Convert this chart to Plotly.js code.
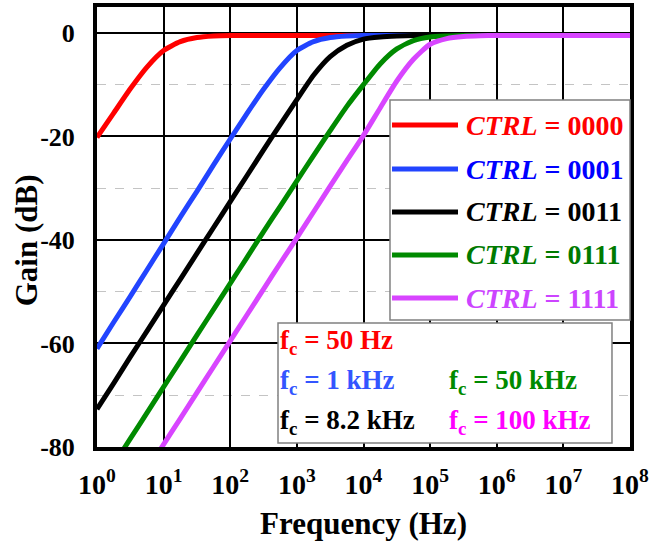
<!DOCTYPE html>
<html>
<head>
<meta charset="utf-8">
<script src="https://cdn.plot.ly/plotly-3.0.1.min.js"></script>
<style>html,body{margin:0;padding:0;background:#fff}#chart{width:662px;height:548px}</style>
</head>
<body>
<div id="chart"></div>
<script>
// Frequencies (Hz), quarter-decade points from 1 Hz to 100 MHz
var freq = [1, 1.778, 3.162, 5.623, 10, 17.78, 31.62, 56.23, 100, 177.8, 316.2, 562.3,
  1e3, 1.778e3, 3.162e3, 5.623e3, 1e4, 1.778e4, 3.162e4, 5.623e4, 1e5, 1.778e5, 3.162e5, 5.623e5,
  1e6, 1.778e6, 3.162e6, 5.623e6, 1e7, 1.778e7, 3.162e7, 5.623e7, 1e8];

var gain0000 = [-20.2, -15.5, -10.8, -6.6, -3.4, -1.7, -0.9, -0.6, -0.5, -0.5, -0.5, -0.5,
  -0.5, -0.5, -0.5, -0.5, -0.5, -0.5, -0.5, -0.5, -0.5, -0.5, -0.5, -0.5,
  -0.5, -0.5, -0.5, -0.5, -0.5, -0.5, -0.5, -0.5, -0.5];
var gain0001 = [-61, -55.9, -50.9, -45.8, -40.7, -35.6, -30.6, -25.5, -20.5, -15.6, -10.9, -6.7,
  -3.4, -1.7, -0.9, -0.6, -0.5, -0.5, -0.5, -0.5, -0.5, -0.5, -0.5, -0.5,
  -0.5, -0.5, -0.5, -0.5, -0.5, -0.5, -0.5, -0.5, -0.5];
var gain0011 = [-72.7, -67.7, -62.6, -57.6, -52.6, -47.6, -42.6, -37.6, -32.6, -27.6, -22.6, -17.7,
  -12.9, -8.2, -4.6, -2.4, -1.2, -0.8, -0.6, -0.5, -0.5, -0.5, -0.5, -0.5,
  -0.5, -0.5, -0.5, -0.5, -0.5, -0.5, -0.5, -0.5, -0.5];
var gain0111 = [-88.4, -83.4, -78.4, -73.4, -68.4, -63.4, -58.4, -53.4, -48.4, -43.4, -38.4, -33.5,
  -28.6, -23.7, -18.9, -14.2, -10.0, -6.0, -3.1, -1.5, -0.8, -0.6, -0.5, -0.5,
  -0.5, -0.5, -0.5, -0.5, -0.5, -0.5, -0.5, -0.5, -0.5];
var gain1111 = [-99.5, -94.5, -89.5, -84.5, -79.5, -74.5, -69.5, -64.5, -59.5, -54.5, -49.5, -44.5,
  -39.6, -34.6, -29.6, -24.7, -19.8, -14.5, -9.3, -5.1, -2.2, -1.1, -0.7, -0.55,
  -0.5, -0.5, -0.5, -0.5, -0.5, -0.5, -0.5, -0.5, -0.5];

var ctrlCodes = ["0000", "0001", "0011", "0111", "1111"];
var cutoffLabels = ["50 Hz", "1 kHz", "8.2 kHz", "50 kHz", "100 kHz"];
var xTickVals = [1, 10, 100, 1e3, 1e4, 1e5, 1e6, 1e7, 1e8];
var xTickText = ["10<sup>0</sup>", "10<sup>1</sup>", "10<sup>2</sup>", "10<sup>3</sup>", "10<sup>4</sup>",
  "10<sup>5</sup>", "10<sup>6</sup>", "10<sup>7</sup>", "10<sup>8</sup>"];
var yTickVals = [-80, -60, -40, -20, 0];
var yTickText = ["-80", "-60", "-40", "-20", "0"];
var yMinorVals = [-70, -50, -30, -10];

var series = [gain0000, gain0001, gain0011, gain0111, gain1111];
var lineColors = ["#ff0000", "#2244ff", "#000000", "#008a00", "#d845ff"];
var legendTextColors = ["#ff0000", "#0000ff", "#000000", "#007a00", "#cc44ff"];
var fcTextColors = ["#ff0000", "#3355ff", "#000000", "#008a00", "#ff00ff"];

var FONT = '"Liberation Serif", "Times New Roman", serif';

var traces = series.map(function (s, i) {
  return {
    x: freq, y: s, type: 'scatter', mode: 'lines',
    name: 'CTRL = ' + ctrlCodes[i],
    line: {color: lineColors[i], width: 5, shape: 'spline', smoothing: 0.6},
    showlegend: false, hoverinfo: 'x+y'
  };
});

var shapes = [];
var annotations = [];

// Legend box (paper coordinates)
var lgX0 = 0.5497, lgX1 = 1.0, lgY0 = 0.2886, lgY1 = 0.7886;
shapes.push({type: 'rect', xref: 'paper', yref: 'paper', x0: lgX0, x1: lgX1, y0: lgY0, y1: lgY1,
  line: {color: '#808080', width: 1.5}, fillcolor: '#ffffff', layer: 'above'});
var lgRows = [0.7318, 0.6318, 0.5341, 0.4364, 0.3386];
ctrlCodes.forEach(function (c, i) {
  shapes.push({type: 'line', xref: 'paper', yref: 'paper', x0: 0.5535, x1: 0.6773, y0: lgRows[i], y1: lgRows[i],
    line: {color: lineColors[i], width: 5}, layer: 'above'});
  annotations.push({xref: 'paper', yref: 'paper', x: 0.6880, y: lgRows[i], xanchor: 'left', yanchor: 'middle',
    showarrow: false, text: '<i>CTRL</i> = ' + c,
    font: {family: FONT, size: 28, weight: 'bold', color: legendTextColors[i]}});
});

// Cut-off frequency box
shapes.push({type: 'rect', xref: 'paper', yref: 'paper', x0: 0.3396, x1: 0.9662, y0: 0.0091, y1: 0.2818,
  line: {color: '#808080', width: 1.5}, fillcolor: '#ffffff', layer: 'above'});
var fcPos = [[0.3400, 0.2380], [0.3400, 0.1470], [0.3400, 0.0560], [0.6560, 0.1470], [0.6560, 0.0560]];
cutoffLabels.forEach(function (t, i) {
  annotations.push({xref: 'paper', yref: 'paper', x: fcPos[i][0], y: fcPos[i][1], xanchor: 'left', yanchor: 'middle',
    showarrow: false, text: 'f<sub>c</sub> = ' + t,
    font: {family: FONT, size: 27, weight: 'bold', color: fcTextColors[i]}});
});

// Y-axis title placed as rotated annotation to match the reference position
annotations.push({xref: 'paper', yref: 'paper', x: -0.1330, y: 0.4700, xanchor: 'center', yanchor: 'middle',
  textangle: -90, showarrow: false, text: 'Gain (dB)',
  font: {family: FONT, size: 31, weight: 'bold', color: '#000'}});

var layout = {
  width: 662, height: 548,
  margin: {l: 97, r: 32, t: 7, b: 101, pad: 0},
  paper_bgcolor: '#ffffff', plot_bgcolor: '#ffffff',
  font: {family: FONT, color: '#000000'},
  showlegend: false,
  xaxis: {
    type: 'log', range: [0, 8],
    tickmode: 'array', tickvals: xTickVals, ticktext: xTickText,
    tickfont: {family: FONT, size: 28, weight: 'bold', color: '#000'},
    ticks: '', ticklabelstandoff: 9,
    showgrid: true, gridcolor: '#000000', gridwidth: 2,
    showline: true, mirror: true, linecolor: '#000000', linewidth: 4,
    zeroline: false,
    title: {text: 'Frequency (Hz)', font: {family: FONT, size: 31, weight: 'bold', color: '#000'}, standoff: 15}
  },
  yaxis: {
    range: [-80, 5],
    tickmode: 'array', tickvals: yTickVals, ticktext: yTickText,
    tickfont: {family: FONT, size: 26, weight: 'bold', color: '#000'},
    ticks: '', ticklabelstandoff: 13,
    showgrid: true, gridcolor: '#000000', gridwidth: 2,
    minor: {tickmode: 'array', tickvals: yMinorVals, showgrid: true, gridcolor: '#c4c4c4', griddash: 'dash', gridwidth: 1, ticks: ''},
    showline: true, mirror: true, linecolor: '#000000', linewidth: 4,
    zeroline: false
  },
  shapes: shapes,
  annotations: annotations
};

Plotly.newPlot('chart', traces, layout, {staticPlot: true, displayModeBar: false});
</script>
</body>
</html>
